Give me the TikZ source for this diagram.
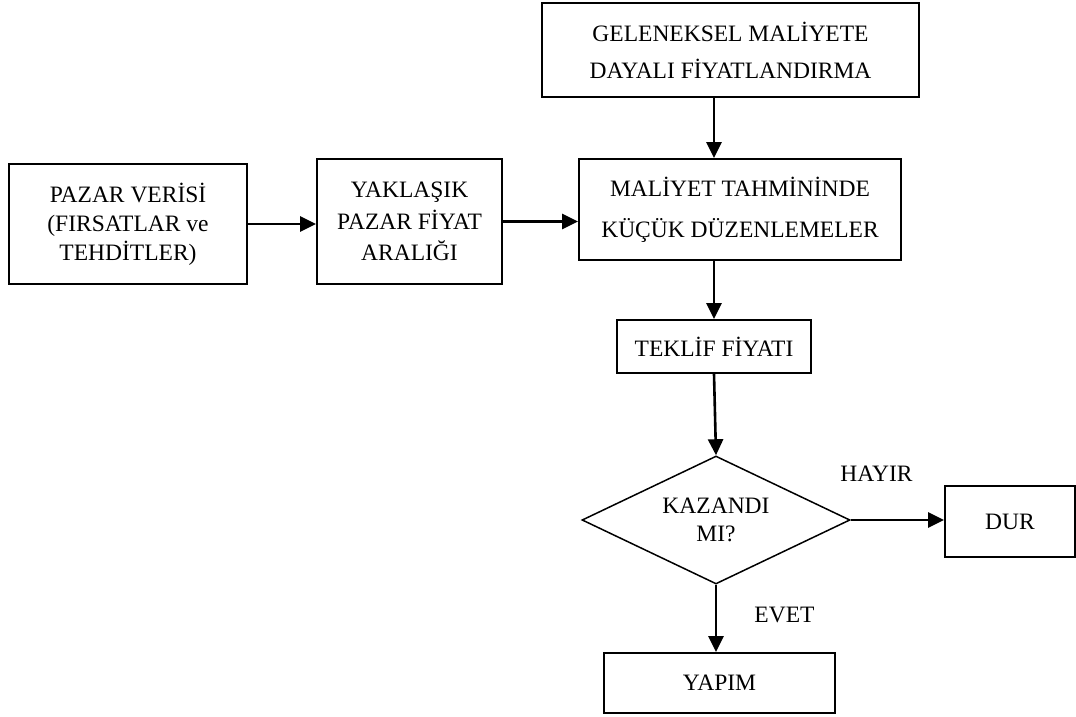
\documentclass[tikz,border=0pt]{standalone}
\usepackage{fontspec}
\setmainfont{Liberation Serif}
\usetikzlibrary{arrows.meta,shapes.geometric}

\tikzset{
  box/.style={draw, line width=1.8pt, rectangle, inner sep=0pt, align=center,
    font=\fontsize{23.5}{30}\selectfont},
  decision/.style={draw, line width=1.5pt, diamond, aspect=2.1, inner sep=0pt,
    align=center, font=\fontsize{23.5}{28}\selectfont},
  tag/.style={inner sep=0pt, font=\fontsize{23.5}{28}\selectfont},
  arr/.style={line width=2.6pt, -{Triangle[length=16pt,width=15pt]}}
}

\begin{document}
\begin{tikzpicture}[x=1pt, y=-1pt]
  \fill[white] (0,0) rectangle (1076,717);
  \useasboundingbox (0,0) rectangle (1076,717);

  % boxes of the flow
  \node[box, minimum width=377pt, minimum height=94pt,
        font=\fontsize{23.5}{36.7}\selectfont] (gel) at (730.5,50)
        {GELENEKSEL MALİYETE\\DAYALI FİYATLANDIRMA};
  \node[box, minimum width=238pt, minimum height=120pt,
        font=\fontsize{23.5}{29}\selectfont] (pazar) at (128,224)
        {PAZAR VERİSİ\\(FIRSATLAR ve\\TEHDİTLER)};
  \node[box, minimum width=185pt, minimum height=125pt,
        font=\fontsize{23.5}{31.5}\selectfont] (yak) at (409.5,221.5)
        {YAKLAŞIK\\PAZAR FİYAT\\ARALIĞI};
  \node[box, minimum width=322pt, minimum height=101pt,
        font=\fontsize{23.5}{41}\selectfont] (mal) at (740,209.5)
        {MALİYET TAHMİNİNDE\\KÜÇÜK DÜZENLEMELER};
  \node[box, minimum width=194pt, minimum height=53pt] (tek) at (714,346.5)
        {TEKLİF FİYATI};
  \node[decision, minimum width=268pt, minimum height=128pt] (kaz) at (716,520)
        {KAZANDI\\MI?};
  \node[box, minimum width=130pt, minimum height=71pt] (dur) at (1010,521.5)
        {DUR};
  \node[box, minimum width=231pt, minimum height=60pt] (yap) at (719.5,683)
        {YAPIM};

  % branch labels
  \node[tag] (hayir) at (876.5,473.5) {HAYIR};
  \node[tag] (evet) at (784.5,615) {EVET};

  % connectors
  \draw[arr] (gel.south -| tek.north) -- (mal.north -| tek.north);
  \draw[arr] (pazar.east) -- (pazar.east -| yak.west);
  \draw[arr] (yak.east) -- (yak.east -| mal.west);
  \draw[arr] (mal.south -| tek.north) -- (tek.north);
  \draw[arr] (tek.south) -- (kaz.north);
  \draw[arr] (kaz.east) -- (kaz.east -| dur.west);
  \draw[arr] (kaz.south) -- (yap.north -| kaz.south);
\end{tikzpicture}
\end{document}
